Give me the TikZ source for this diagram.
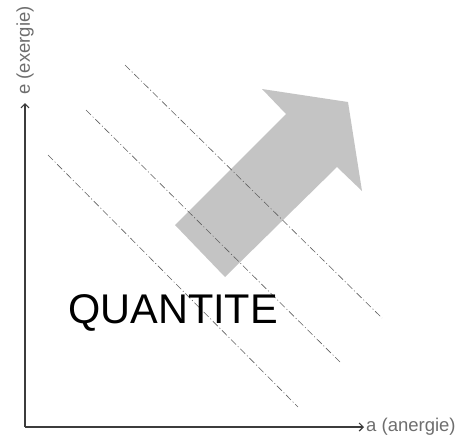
\documentclass[tikz,border=0pt]{standalone}
\usepackage{fontspec}
\setmainfont{Liberation Sans}
\usetikzlibrary{arrows.meta}
\definecolor{axiscol}{HTML}{3C3C3C}
\definecolor{labelcol}{HTML}{6E6E6E}
\definecolor{arrowfill}{HTML}{C4C4C4}
\definecolor{dashcol}{HTML}{606060}
\tikzset{
  axisline/.style={draw=axiscol, line width=1.4pt, -{Straight Barb[length=4pt,width=8pt,line width=1.2pt]}},
  axislabel/.style={text=labelcol, font=\fontsize{18.5}{20}\selectfont, inner sep=0pt},
  dashdotline/.style={draw=dashcol, line width=0.6pt, dash pattern=on 7pt off 2.5pt on 1pt off 2.5pt},
  bigarrow/.style={fill=arrowfill, draw=none},
  bigtext/.style={font=\fontsize{41.5}{44}\selectfont, inner sep=0pt, anchor=base west}
}
\begin{document}
\begin{tikzpicture}[x=1pt,y=-1pt]
\useasboundingbox (0,0) rectangle (459,437);
% diagonal dash-dot lines
\coordinate (l1s) at (125,65);  \coordinate (l1e) at (382,318);
\coordinate (l2s) at (86,110);  \coordinate (l2e) at (340,362);
\coordinate (l3s) at (48,155);  \coordinate (l3e) at (298,407);
% big arrow
\filldraw[bigarrow] (175,225) -- (225,277) -- (337,167) -- (362,191)
  -- (348,102) -- (262,89) -- (286,114) -- cycle;
\draw[dashdotline] (l1s) -- (l1e);
\draw[dashdotline] (l2s) -- (l2e);
\draw[dashdotline] (l3s) -- (l3e);
% text
\node[bigtext] (q) at (68,323) {QUANTITE};
% axes
\coordinate (o) at (25,427);
\coordinate (ytip) at (25,103);
\coordinate (xtip) at (364,427);
\draw[axisline] (o) -- (ytip);
\draw[axisline] (o) -- (xtip);
\node[axislabel, anchor=west] (xl) at (366,427) {a (anergie)};
\node[axislabel, rotate=90, anchor=west] (yl) at (25,95) {e (exergie)};
\end{tikzpicture}
\end{document}
